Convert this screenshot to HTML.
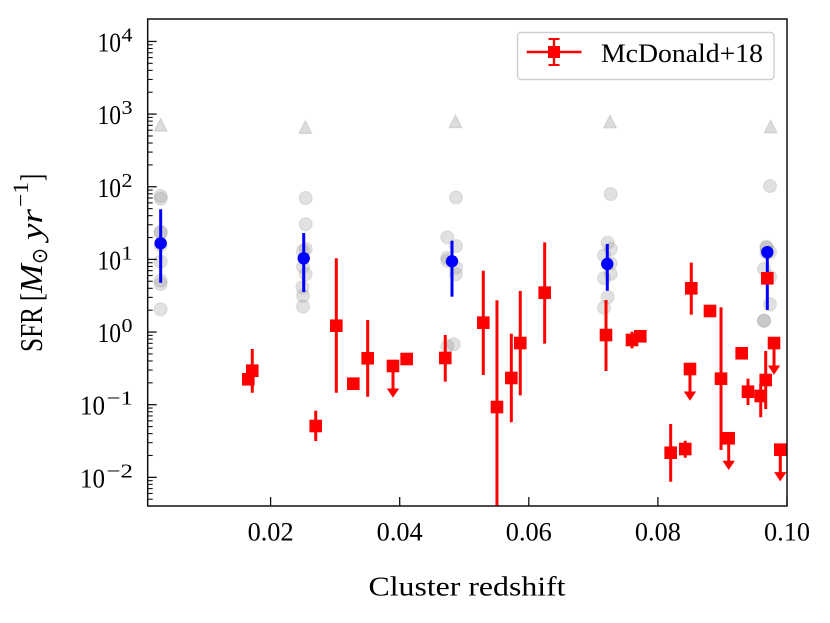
<!DOCTYPE html>
<html lang="en">
<head>
<meta charset="utf-8">
<title>SFR vs Cluster redshift</title>
<style>
html,body{margin:0;padding:0;background:#fff;}
svg{display:block;font-family:"Liberation Serif",serif;}
</style>
</head>
<body>
<svg id="chart" width="830" height="623" viewBox="0 0 830 623" xmlns="http://www.w3.org/2000/svg">
  <rect x="0" y="0" width="830" height="623" fill="#fff"/>
  <defs><clipPath id="plot-clip"><rect x="147.7" y="19" width="639.3" height="487"/></clipPath></defs>
  <g id="marks" clip-path="url(#plot-clip)"></g>
  <g id="axes"></g>
  <text x="368.5" y="595.5" font-size="27" textLength="197" lengthAdjust="spacingAndGlyphs" fill="#000">Cluster redshift</text>
  <g transform="translate(42,352) rotate(-90)" fill="#000">
    <text x="0" y="0" font-size="32" textLength="45" lengthAdjust="spacingAndGlyphs">SFR</text>
    <text x="51" y="0" font-size="32" textLength="8" lengthAdjust="spacingAndGlyphs">[</text>
    <text x="59" y="0" font-size="32" font-style="italic" textLength="29" lengthAdjust="spacingAndGlyphs">M</text>
    <text x="88" y="5" font-size="22" textLength="16" lengthAdjust="spacingAndGlyphs">⊙</text>
    <text x="112" y="0" font-size="31" font-style="italic" textLength="31" lengthAdjust="spacingAndGlyphs">yr</text>
    <text x="145" y="-14" font-size="22" textLength="25" lengthAdjust="spacingAndGlyphs">−1</text>
    <text x="171" y="0" font-size="32" textLength="7" lengthAdjust="spacingAndGlyphs">]</text>
  </g>
  <g>
    <rect x="517.5" y="32.5" width="256.5" height="47" rx="3.5" fill="#fff" fill-opacity="0.8" stroke="#cfcfcf" stroke-width="1.4"/>
    <line x1="526.7" y1="52" x2="581.5" y2="52" stroke="#f00" stroke-width="2.4"/>
    <line x1="554" y1="39" x2="554" y2="65" stroke="#f00" stroke-width="2.4"/>
    <line x1="548.5" y1="39" x2="559.5" y2="39" stroke="#f00" stroke-width="2"/>
    <line x1="548.5" y1="65" x2="559.5" y2="65" stroke="#f00" stroke-width="2"/>
    <rect x="548" y="46" width="12" height="12" fill="#f00"/>
    <text x="601" y="62" font-size="26.5" textLength="162" lengthAdjust="spacingAndGlyphs" fill="#000">McDonald+18</text>
  </g>
</svg>
<script>
// Redshift tick values and labels
const xTicks = [0.02, 0.04, 0.06, 0.08, 0.10];
const xTickLabels = ["0.02", "0.04", "0.06", "0.08", "0.10"];
const yTickExponents = [-2, -1, 0, 1, 2, 3, 4];
const yTickLabels = ["\u22122", "\u22121", "0", "1", "2", "3", "4"];

// McDonald+18 (red); SFR values given as log10(SFR)
const redZ = [0.01655,0.01716,0.02699,0.03018,0.03281,0.03504,0.03896,0.04108,0.04706,0.05295,0.05507,0.05729,0.05868,0.06246,0.07196,0.07599,0.07727,0.08517,0.08807,0.09298,0.08497,0.09695,0.09799,0.08198,0.08424,0.08978,0.09097,0.09396,0.09593,0.0967,0.09896];
const redLogSfr = [-0.650,-0.532,-1.293,0.087,-0.711,-0.361,-0.467,-0.371,-0.357,0.129,-1.032,-0.632,-0.151,0.542,-0.041,-0.109,-0.058,0.602,0.290,-0.292,-0.509,0.740,-0.151,-1.661,-1.610,-0.642,-1.462,-0.821,-0.880,-0.660,-1.619];
const redLogHi = [null,-0.233,-1.083,1.015,null,0.166,null,null,-0.041,0.844,0.437,-0.023,0.565,1.235,0.441,0.005,null,0.955,null,null,null,null,null,-1.266,-1.496,0.341,null,-0.642,-0.715,-0.261,null];
const redLogLo = [null,-0.835,-1.500,-0.835,null,-0.890,null,null,-0.683,-0.591,-3.000,-1.242,-0.871,-0.160,-0.536,-0.224,null,0.239,null,null,null,null,null,-2.060,-1.730,-1.624,null,-1.004,-1.173,-1.059,null];
const redUpperLimit = [0,0,0,0,0,0,1,0,0,0,0,0,0,0,0,0,0,0,0,0,1,0,1,0,0,0,1,0,0,0,1];

// Binned means (blue)
const blueZ = [0.00297,0.02513,0.0481,0.07216,0.09695];
const blueLogSfr = [1.222,1.015,0.974,0.937,1.098];
const blueLogHi = [1.690,1.363,1.257,1.212,1.184];
const blueLogLo = [0.679,0.551,0.487,0.569,0.304];

// Individual points (grey circles)
const greyZ = [0.00297,0.00297,0.00297,0.00297,0.00297,0.00297,0.00297,0.00297,0.00297,
  0.02544,0.02544,0.02544,0.02502,0.02502,0.02544,0.02492,0.02503,0.02503,
  0.04737,0.04872,0.04737,0.04737,0.04872,0.04872,0.04737,0.04837,0.04872,
  0.07222,0.07269,0.07165,0.07269,0.07269,0.07165,0.07222,0.07165,0.07269,
  0.09737,0.09682,0.09682,0.09737,0.09682,0.09644,0.09737,0.09737,0.09644,0.09644];
const greyLogSfr = [1.873,1.836,1.381,1.363,1.198,0.968,0.707,0.661,0.313,
  1.845,1.483,1.143,1.116,0.900,0.795,0.616,0.500,0.349,
  1.304,1.184,1.023,0.982,0.886,0.795,-0.192,-0.169,1.852,
  1.230,1.143,1.056,0.946,0.799,0.740,0.482,0.335,1.900,
  2.010,1.175,1.157,1.098,1.092,0.868,0.758,0.382,0.156,0.156];

// Grey triangles
const triZ = [0.00297,0.02538,0.04864,0.07258,0.09747];
const triLogSfr = [2.850,2.818,2.898,2.895,2.827];

const NS = "http://www.w3.org/2000/svg";
const xScale = z => 270.6 + (z - 0.02) * 6455;
const yScale = l => 332.05 - l * 72.65;
const LEFT = 147.7, RIGHT = 787, TOP = 19, BOTTOM = 506;
const marks = document.getElementById("marks");
const axes = document.getElementById("axes");

function mk(parent, tag, attrs) {
  const el = document.createElementNS(NS, tag);
  for (const k in attrs) el.setAttribute(k, attrs[k]);
  parent.appendChild(el);
  return el;
}

// grey circles
greyZ.forEach((z, i) => {
  const c = mk(marks, "circle", {cx: xScale(z), cy: yScale(greyLogSfr[i]), r: 6.5, fill: "#808080", "fill-opacity": 0.24, stroke: "#808080", "stroke-opacity": 0.16, "stroke-width": 1.3});
  
  
});

// grey triangles
triZ.forEach((z, i) => {
  const x = xScale(z), y = yScale(triLogSfr[i]);
  const t = mk(marks, "polygon", {points: `${x},${y - 6.6} ${x + 6.4},${y + 6.2} ${x - 6.4},${y + 6.2}`, fill: "#808080", "fill-opacity": 0.28, stroke: "#808080", "stroke-opacity": 0.22, "stroke-width": 1.2});
  
  
});

// blue means
blueZ.forEach((z, i) => {
  const x = xScale(z);
  const l = mk(marks, "line", {x1: x, x2: x, y1: yScale(blueLogHi[i]), y2: yScale(blueLogLo[i]), stroke: "#00f", "stroke-width": 3});
  
  
  const c = mk(marks, "circle", {cx: x, cy: yScale(blueLogSfr[i]), r: 6.2, fill: "#00f"});
  
  
});

// red points
redZ.forEach((z, i) => {
  const x = xScale(z), y = yScale(redLogSfr[i]);
  if (redLogHi[i] !== null) {
    const l = mk(marks, "line", {x1: x, x2: x, y1: yScale(redLogHi[i]), y2: yScale(redLogLo[i]), stroke: "#f00", "stroke-width": 3});
    
    
  }
  if (redUpperLimit[i]) {
    const s = mk(marks, "line", {x1: x, x2: x, y1: y, y2: y + 24, stroke: "#f00", "stroke-width": 3});
    
    
    const a = mk(marks, "polygon", {points: `${x - 6.2},${y + 22.5} ${x + 6.2},${y + 22.5} ${x},${y + 31.7}`, fill: "#f00"});
    
    
  }
  const r = mk(marks, "rect", {x: x - 6.3, y: y - 6.3, width: 12.6, height: 12.6, fill: "#f00"});
  
  
});

// spines
const spine = mk(axes, "rect", {x: LEFT, y: TOP, width: RIGHT - LEFT, height: BOTTOM - TOP, fill: "none", stroke: "#111", "stroke-width": 1.5});



// x ticks
xTicks.forEach((v, i) => {
  const x = xScale(v);
  const t = mk(axes, "line", {x1: x, x2: x, y1: BOTTOM, y2: BOTTOM - 9, stroke: "#111", "stroke-width": 1.3});
  
  
  const lb = mk(axes, "text", {x: x - 23, y: 540.7, "font-size": 26, textLength: 46, lengthAdjust: "spacingAndGlyphs", fill: "#000"});
  
  
  lb.textContent = xTickLabels[i];
});

// y ticks
yTickExponents.forEach((e, i) => {
  const y = yScale(e);
  const negative = e < 0;
  const t = mk(axes, "line", {x1: LEFT, x2: LEFT + 9, y1: y, y2: y, stroke: "#111", "stroke-width": 1.3});
  
  
  const base = mk(axes, "text", {x: negative ? 80 : 97.5, y: y + 10, "font-size": 27, textLength: negative ? 25 : 23.5, lengthAdjust: "spacingAndGlyphs", fill: "#000"});
  
  
  base.textContent = "10";
  const sup = mk(axes, "text", {x: negative ? 106.5 : 121.5, y: y, "font-size": 20, textLength: negative ? 26.5 : 11, lengthAdjust: "spacingAndGlyphs", fill: "#000"});
  
  
  sup.textContent = yTickLabels[i];
  for (let m = 2; m <= 9; m++) {
    const my = yScale(e + Math.log10(m));
    if (my < TOP + 2) continue;
    const mt = mk(axes, "line", {x1: LEFT, x2: LEFT + 5, y1: my, y2: my, stroke: "#111", "stroke-width": 1.1});
    
    
  }
  for (let m = 2; m <= 9; m++) {
    const my = yScale(e - 1 + Math.log10(m));
    if (e !== -2 || my > BOTTOM - 1) continue;
    const mt = mk(axes, "line", {x1: LEFT, x2: LEFT + 5, y1: my, y2: my, stroke: "#111", "stroke-width": 1.1});
    
    
  }
});
</script>
</body>
</html>
